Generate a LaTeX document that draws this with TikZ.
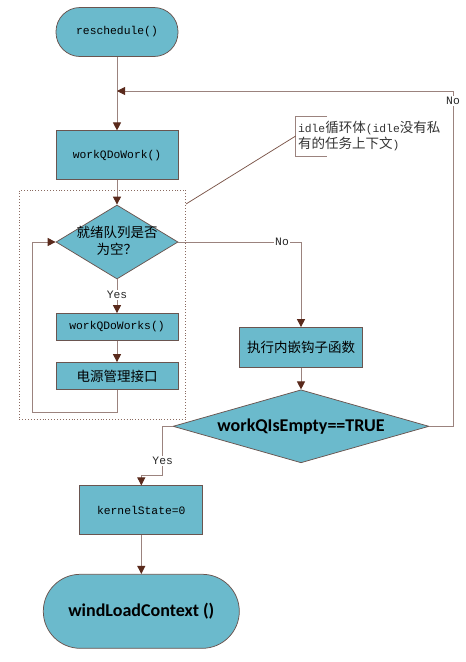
\documentclass[tikz,border=0pt]{standalone}
\usepackage{fontspec}
\usetikzlibrary{arrows.meta,shapes.geometric}
\newfontfamily\cjk{Noto Sans CJK SC}
\newfontfamily\asc{Liberation Mono}[Scale=0.84]
\newfontfamily\bsans{Carlito}
\definecolor{boxfill}{HTML}{6BBACC}
\definecolor{boxline}{HTML}{6A5550}
\definecolor{wirecol}{HTML}{9B837E}
\definecolor{tipbrown}{HTML}{5A2A1C}
\definecolor{dotcol}{HTML}{8A6A60}

\tikzset{every picture/.style={line width=0.75pt},
	procbox/.style={draw=boxline, fill=boxfill, minimum width=122pt, minimum height=49pt, inner sep=0pt, text=black, font=\fontsize{13.5}{16.3}\selectfont},
	termbox/.style={procbox, rounded corners=24pt},
	decision/.style={draw=boxline, fill=boxfill, diamond, inner sep=0pt},
	wire/.style={draw=wirecol, line width=0.9pt},
	flow/.style={wire, -{Triangle[width=8pt,length=8pt,color=tipbrown]}},
	tag/.style={fill=white, inner sep=1pt, text=black!85, font=\fontsize{13.5}{16.3}\selectfont\asc},
}

\begin{document}
\begin{tikzpicture}[x=1pt,y=1pt,yscale=-1,xscale=1]
		\useasboundingbox (0,0) rectangle (466,662);
		
		%Shape: idle loop frame
		\node[draw=dotcol, dotted, line width=0.9pt, minimum width=166.4pt, minimum height=229.3pt] (loopbox) at (102.5,304.7) {};
		
		%Shape: Terminal
		\node[termbox] (resched) at (117,32) {\asc reschedule()};
		%Shape: Rectangle
		\node[procbox] (work) at (117,155.3) {\asc workQDoWork()};
		%Shape: Diamond
		\node[decision, minimum width=122pt, minimum height=74pt] (ready) at (117,242) {};
		\node[align=center, inner sep=0pt, text=black, font=\fontsize{13.5}{17}\selectfont\cjk] (readytext) at (117,241) {就绪队列是否\\为空？};
		%Shape: Rectangle
		\node[procbox, minimum height=27pt] (works) at (117,327) {\asc workQDoWorks()};
		%Shape: Rectangle
		\node[procbox, minimum height=27pt] (power) at (117,376) {\cjk 电源管理接口};
		%Shape: Rectangle
		\node[procbox, minimum width=123pt, minimum height=40pt] (hook) at (301,347.5) {\cjk 执行内嵌钩子函数};
		%Shape: Diamond
		\node[decision, minimum width=256pt, minimum height=73pt] (empty) at (301,426.3) {};
		\node[inner sep=0pt, text=black, font=\fontsize{18}{21}\selectfont\bsans\bfseries] (emptytext) at (301,426.3) {workQIsEmpty==TRUE};
		%Shape: Rectangle
		\node[procbox, minimum width=123pt] (kstate) at (141.3,510.3) {\asc kernelState=0};
		%Shape: Terminal
		\node[termbox, minimum width=196pt, minimum height=74pt, rounded corners=37pt, font=\fontsize{18}{21}\selectfont\bsans\bfseries] (load) at (141.3,611.3) {windLoadContext ()};
		
		\coordinate (merge) at (117,91);
		\coordinate (notefoot) at (186,204);
		
		\draw[flow] (resched) -- (work);
		\draw[flow] (empty.east) -- (453,426.3) -- (453,91) -- (merge);
		\draw[flow] (work) -- (ready);
		\draw[flow] (ready) -- (works);
		\draw[flow] (works) -- (power);
		\draw[flow] (power) -- (117,412) -- (32,412) -- (32,242) -- (ready.west);
		\draw[flow] (ready.east) -- (301,242) -- (hook);
		\draw[flow] (hook) -- (empty);
		\draw[flow] (empty.west) -- (162.7,426.3) -- (162.7,475.7) -- (141.3,475.7) -- (kstate);
		\draw[flow] (kstate) -- (load);
		
		\node[tag] (no1) at (453,101) {No};
		\node[tag] (yes1) at (117,295) {Yes};
		\node[tag] (no2) at (282,242) {No};
		\node[tag] (yes2) at (162.7,461) {Yes};
		
		%Annotation
		\node[anchor=west, align=left, inner sep=2pt, text=black!80, font=\fontsize{13.5}{16.3}\selectfont] (note) at (295.7,136) {{\asc idle}{\cjk 循环体}{\asc (idle}{\cjk 没有私}\\{\cjk 有的任务上下文}{\asc )}};
		\draw[draw=wirecol, line width=0.9pt] (327,116) -- (295.7,116) -- (295.7,156) -- (327,156);
		\draw[draw=tipbrown!80, line width=0.75pt] (notefoot) -- (note.west);
		
	\end{tikzpicture}
\end{document}
